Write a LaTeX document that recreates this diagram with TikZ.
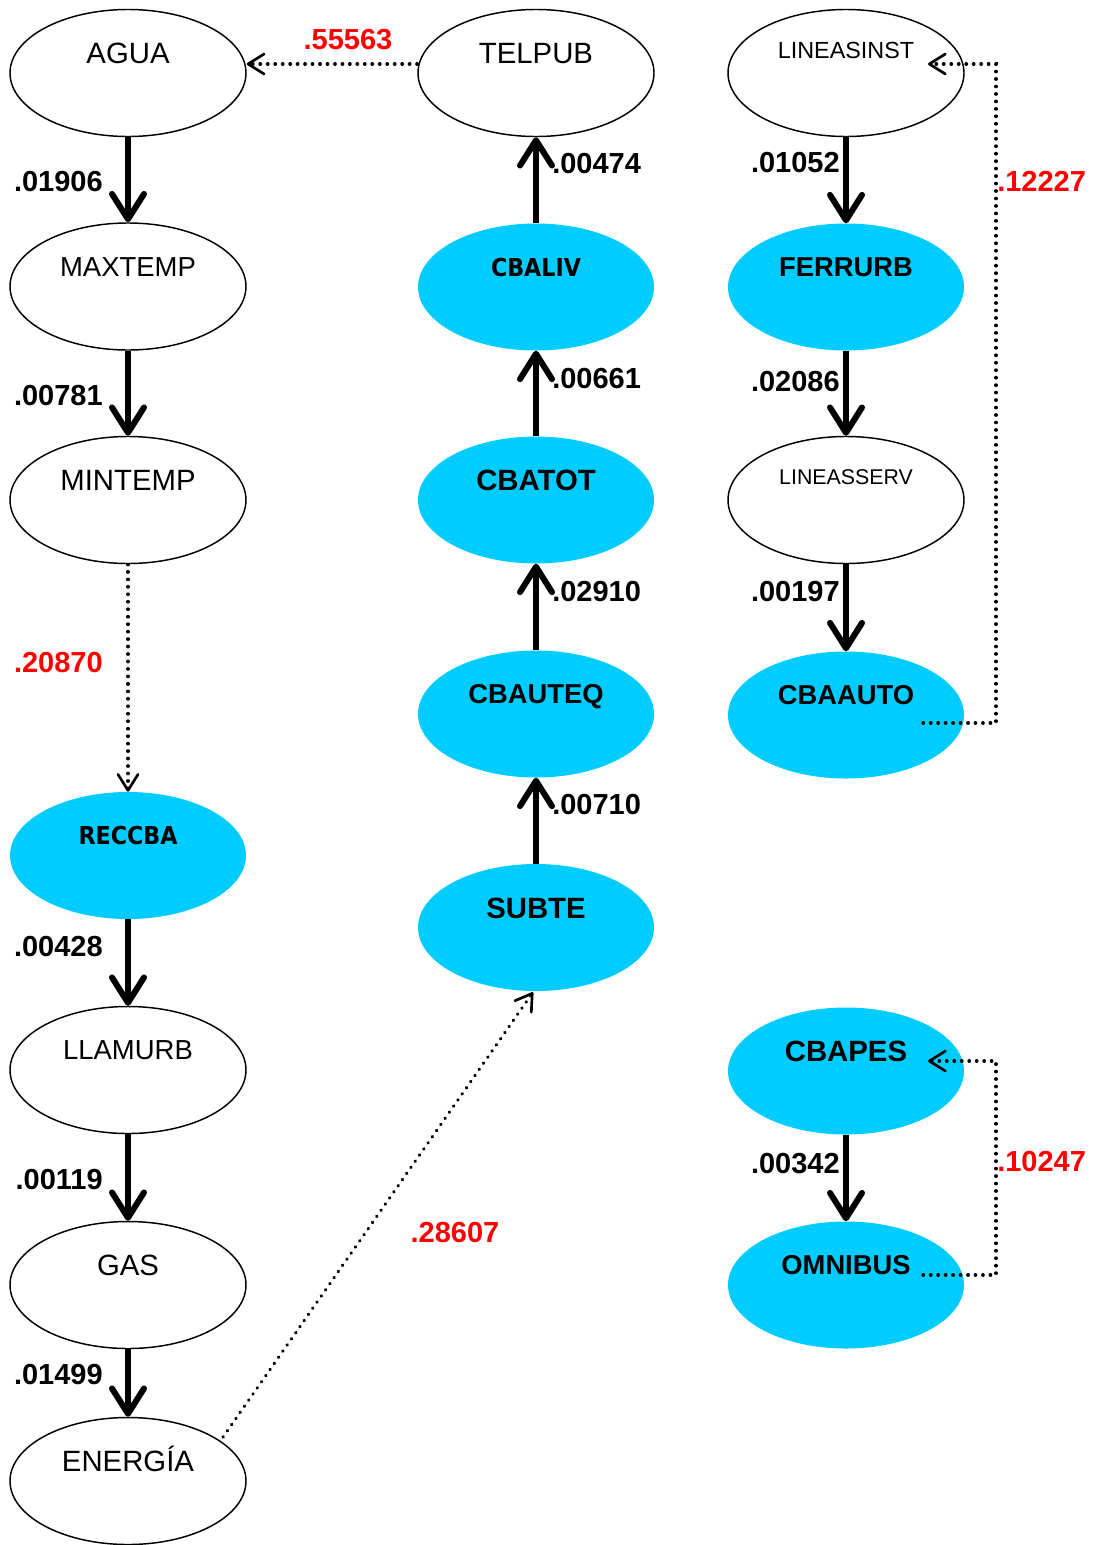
\documentclass[tikz,border=0pt]{standalone}
\usepackage{fontspec}
\setmainfont{Liberation Sans}
\newfontfamily\dvsans[FakeStretch=0.9]{DejaVu Sans}
\usetikzlibrary{arrows.meta,calc,shapes.geometric}
\definecolor{cyanfill}{HTML}{00CCFF}
\definecolor{redlab}{HTML}{FF0000}
\newcommand\ovalnode[6]{%
  \node[#4] (#1) at (#2,#3) {};
  \node[#5] (#1-t) at ([yshift=15pt]#1.center) {#6};}
\begin{document}
\begin{tikzpicture}[x=0.75pt,y=-0.75pt,
  ell/.style={ellipse, minimum width=177pt, minimum height=95.25pt, inner sep=0pt},
  wnode/.style={ell, draw=black, line width=1.1pt, fill=white},
  cnode/.style={ell, fill=cyanfill},
  txt/.style={inner sep=0pt, text depth=0pt},
  wbig/.style={txt, text height=15.8pt, font=\fontsize{22}{24}\selectfont},
  wmid/.style={txt, text height=14.8pt, font=\fontsize{20.6}{23}\selectfont},
  wsmall/.style={txt, text height=12.6pt, yshift=2.5pt, font=\fontsize{17.5}{20}\selectfont},
  wtiny/.style={txt, text height=11.5pt, yshift=2.5pt, font=\fontsize{16}{18}\selectfont},
  bbig/.style={txt, text height=15.8pt, font=\bfseries\fontsize{22}{24}\selectfont},
  bmid/.style={txt, text height=14.8pt, font=\bfseries\fontsize{20.5}{23}\selectfont},
  bdv/.style={txt, text height=13.5pt, font=\dvsans\bfseries\fontsize{18.5}{21}\selectfont},
  num/.style={txt, text height=15.7pt, font=\bfseries\fontsize{21.75}{24}\selectfont},
  rnum/.style={num, text=redlab},
  sarrow/.style={line width=5pt, -{Straight Barb[length=19pt,width=24pt,line width=4.5pt,round]}},
  darrow/.style={line width=2.5pt, dash pattern=on 0.3pt off 5.3pt, line cap=round,
    -{Straight Barb[length=12pt,width=15pt,line width=2pt,round]}}
]
\fill[white] (0,0) rectangle (1094,1545);
\useasboundingbox (0,0) rectangle (1094,1545);

% column 1
\ovalnode{agua}{128}{73}{wnode}{wbig}{AGUA}
\ovalnode{maxtemp}{128}{286.5}{wnode}{wmid}{MAXTEMP}
\ovalnode{mintemp}{128}{500}{wnode}{wbig}{MINTEMP}
\ovalnode{reccba}{128}{855.5}{cnode}{bdv}{RECCBA}
\ovalnode{llamurb}{128}{1070}{wnode}{wmid}{LLAMURB}
\ovalnode{gas}{128}{1285}{wnode}{wbig}{GAS}
\ovalnode{energia}{128}{1481}{wnode}{wbig}{ENERGÍA}
% column 2
\ovalnode{telpub}{536}{73}{wnode}{wbig}{TELPUB}
\ovalnode{cbaliv}{536}{287}{cnode}{bdv}{CBALIV}
\ovalnode{cbatot}{536}{500}{cnode}{bbig}{CBATOT}
\ovalnode{cbauteq}{536}{714}{cnode}{bmid}{CBAUTEQ}
\ovalnode{subte}{536}{927.5}{cnode}{bbig}{SUBTE}
% column 3
\ovalnode{lineasinst}{846}{73}{wnode}{wsmall}{LINEASINST}
\ovalnode{ferrurb}{846}{287}{cnode}{bmid}{FERRURB}
\ovalnode{lineasserv}{846}{500}{wnode}{wtiny}{LINEASSERV}
\ovalnode{cbaauto}{846}{715}{cnode}{bmid}{CBAAUTO}
\ovalnode{cbapes}{846}{1071}{cnode}{bbig}{CBAPES}
\ovalnode{omnibus}{846}{1285}{cnode}{bmid}{OMNIBUS}

% solid arrows
\draw[sarrow] (agua.south) -- (maxtemp.north);
\draw[sarrow] (maxtemp.south) -- (mintemp.north);
\draw[sarrow] (reccba.south) -- (llamurb.north);
\draw[sarrow] (llamurb.south) -- (gas.north);
\draw[sarrow] (gas.south) -- (energia.north);
\draw[sarrow] (subte.north) -- (cbauteq.south);
\draw[sarrow] (cbauteq.north) -- (cbatot.south);
\draw[sarrow] (cbatot.north) -- (cbaliv.south);
\draw[sarrow] (cbaliv.north) -- (telpub.south);
\draw[sarrow] (lineasinst.south) -- (ferrurb.north);
\draw[sarrow] (ferrurb.south) -- (lineasserv.north);
\draw[sarrow] (lineasserv.south) -- (cbaauto.north);
\draw[sarrow] (cbapes.south) -- (omnibus.north);

% dotted arrows
\draw[darrow] ([yshift=6.75pt]telpub.west) -- ([yshift=6.75pt]agua.east);
\draw[darrow] (mintemp.south) -- (reccba.north);
\draw[darrow] ($(energia.center)+(95,-44)$) -- ($(subte.south)+(-3,1)$);
\draw[darrow] ($(cbaauto.center)+(77,8)$) -- ++(73,0) |- ($(lineasinst.center)+(82,-9)$);
\draw[darrow] ($(omnibus.center)+(77,-10)$) -- ++(73,0) |- ($(cbapes.center)+(82,-10)$);

% labels
\node[num, anchor=east] (l1) at (103,181) {.01906};
\node[num, anchor=east] (l2) at (103,395) {.00781};
\node[num, anchor=east] (l3) at (103,946) {.00428};
\node[num, anchor=east] (l4) at (103,1179) {.00119};
\node[num, anchor=east] (l5) at (103,1374) {.01499};
\node[num, anchor=west] (l6) at (552,163) {.00474};
\node[num, anchor=west] (l7) at (552,378) {.00661};
\node[num, anchor=west] (l8) at (552,591) {.02910};
\node[num, anchor=west] (l9) at (552,804) {.00710};
\node[num, anchor=east] (l10) at (840,162.5) {.01052};
\node[num, anchor=east] (l11) at (840,381) {.02086};
\node[num, anchor=east] (l12) at (840,591) {.00197};
\node[num, anchor=east] (l13) at (840,1163) {.00342};
\node[rnum] (r1) at (348,39.5) {.55563};
\node[rnum, anchor=east] (r2) at (103,662) {.20870};
\node[rnum] (r3) at (455,1232.5) {.28607};
\node[rnum, anchor=west] (r4) at (997,181) {.12227};
\node[rnum, anchor=west] (r5) at (997,1161) {.10247};
\end{tikzpicture}
\end{document}
